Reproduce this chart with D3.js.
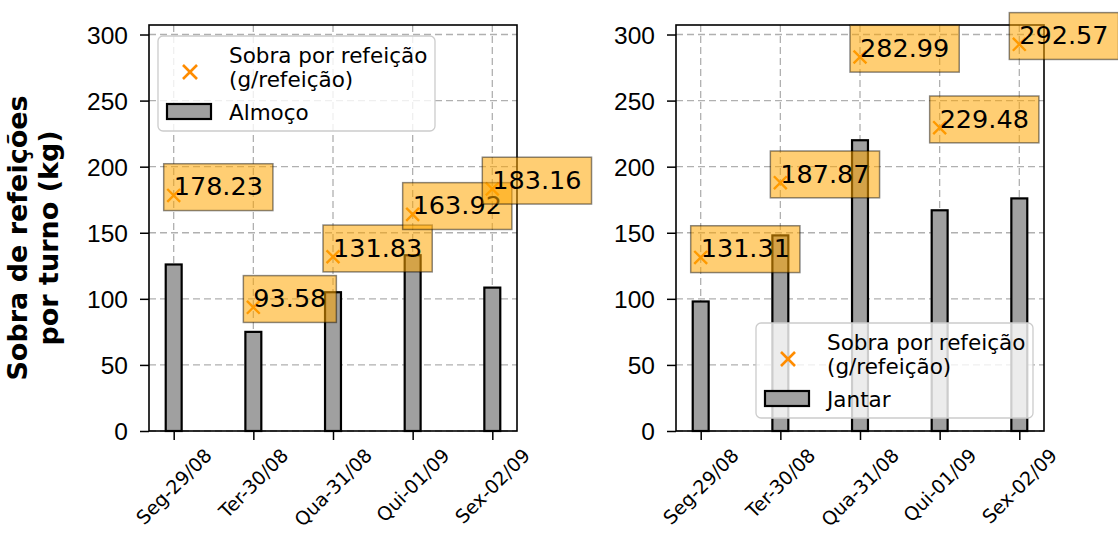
<!DOCTYPE html>
<html>
<head>
<meta charset="utf-8">
<script src="https://cdn.jsdelivr.net/npm/d3@7"></script>
<style>
  html, body { margin: 0; padding: 0; background: #fff; }
  svg { display: block; font-family: "DejaVu Sans", sans-serif; }
</style>
</head>
<body>
<svg id="chart" width="1118" height="536"></svg>
<script>
(function() {
    'use strict';

    // data
    var dias = ['Seg-29/08', 'Ter-30/08', 'Qua-31/08', 'Qui-01/09', 'Sex-02/09'];
    var almoco = [126, 75, 105, 133, 108.5];
    var jantar = [98, 148, 220, 167, 176];
    var sobraAlmoco = [178.23, 93.58, 131.83, 163.92, 183.16];
    var sobraJantar = [131.31, 187.87, 282.99, 229.48, 292.57];
    var yTicks = [0, 50, 100, 150, 200, 250, 300];

    var svg = d3.select('#chart');
    var top = 25, bottom = 431, axW = 368;
    var yMax = d3.max(sobraAlmoco.concat(sobraJantar)) * 1.05;
    var y = d3.scaleLinear().domain([0, yMax]).range([bottom, top]);

    var panels = [
        { x0: 149, bars: almoco, sobra: sobraAlmoco, nome: 'Almoço',
          legend: { x: 158, y: 36 } },
        { x0: 676, bars: jantar, sobra: sobraJantar, nome: 'Jantar',
          legend: { x: 756, y: 323 } }
    ];

    /******************************************************************
        one axes per meal
     ******************************************************************/
    function drawPanel(p) {
        var x = d3.scaleLinear().domain([-0.31, 4.31]).range([p.x0, p.x0 + axW]);
        var bw = x(0.2) - x(0);
        var g = svg.append('g');

        // grid
        g.append('g').selectAll('line').data(yTicks).join('line')
            .attr('x1', p.x0).attr('x2', p.x0 + axW)
            .attr('y1', function(d) { return y(d); })
            .attr('y2', function(d) { return y(d); })
            .style('stroke', '#b0b0b0').style('stroke-width', 1.3)
            .style('stroke-dasharray', '7,4');
        g.append('g').selectAll('line').data(dias).join('line')
            .attr('x1', function(d, i) { return x(i); })
            .attr('x2', function(d, i) { return x(i); })
            .attr('y1', top).attr('y2', bottom)
            .style('stroke', '#b0b0b0').style('stroke-width', 1.3)
            .style('stroke-dasharray', '7,4');

        // bars
        g.append('g').selectAll('rect').data(p.bars).join('rect')
            .attr('x', function(d, i) { return x(i) - bw / 2; })
            .attr('y', function(d) { return y(d); })
            .attr('width', bw)
            .attr('height', function(d) { return bottom - y(d); })
            .style('fill', '#a0a0a0').style('stroke', '#000').style('stroke-width', 2.2);

        // markers
        g.append('g').selectAll('path').data(p.sobra).join('path')
            .attr('d', d3.symbol(d3.symbolTimes, 110))
            .attr('transform', function(d, i) { return 'translate(' + x(i) + ',' + y(d) + ')'; })
            .style('stroke', '#ff8c00').style('stroke-width', 2.4).style('fill', 'none');

        // axes
        var ax = g.append('g').attr('transform', 'translate(0,' + bottom + ')')
            .call(d3.axisBottom(x).tickValues([0, 1, 2, 3, 4]).tickFormat('').tickSize(9).tickSizeOuter(0));
        var ay = g.append('g').attr('transform', 'translate(' + p.x0 + ',0)')
            .call(d3.axisLeft(y).tickValues(yTicks).tickSize(9).tickSizeOuter(0).tickPadding(12));
        [ax, ay].forEach(function(a) {
            a.select('.domain').remove();
            a.selectAll('line').style('stroke', '#000').style('stroke-width', 1.5);
        });
        ay.selectAll('text').style('font-size', '24.5px').style('fill', '#000')
            .attr('dy', '0.36em');

        // x tick labels, rotated 45 and centred under each tick (kept inside the page)
        var xf = 19;
        dias.forEach(function(d, i) {
            var t = g.append('text').text(d)
                .style('font-size', xf + 'px')
                .attr('text-anchor', 'middle')
                .attr('dominant-baseline', 'central');
            var w = t.node().getComputedTextLength();
            var side = (w + xf * 1.16) / Math.SQRT2;
            var cx = x(i), cy = 444 + side / 2;
            t.attr('x', cx).attr('y', cy)
                .attr('transform', 'rotate(-45,' + cx + ',' + cy + ')');
        });

        // spines
        g.append('rect')
            .attr('x', p.x0).attr('y', top).attr('width', axW).attr('height', bottom - top)
            .style('fill', 'none').style('stroke', '#000').style('stroke-width', 1.6);

        // value labels
        var fs = 25.5;
        p.sobra.forEach(function(d, i) {
            var bx = g.append('rect');
            var t = g.append('text').text(d.toFixed(2))
                .attr('x', x(i)).attr('y', y(d))
                .style('font-size', fs + 'px').style('fill', '#000');
            var w = t.node().getComputedTextLength();
            bx.attr('x', x(i) - 10).attr('y', y(d) - 0.93 * fs - 8)
                .attr('width', w + 20).attr('height', 1.17 * fs + 17)
                .style('fill', '#ffa500').style('fill-opacity', 0.55)
                .style('stroke', '#000').style('stroke-opacity', 0.45).style('stroke-width', 1.5);
        });

        // legend
        var lf = '21.5px';
        var L = g.append('g').attr('transform', 'translate(' + p.legend.x + ',' + p.legend.y + ')');
        L.append('rect').attr('width', 277).attr('height', 95).attr('rx', 5)
            .style('fill', '#fff').style('fill-opacity', 0.8)
            .style('stroke', '#cccccc').style('stroke-width', 1.3);
        L.append('path').attr('d', d3.symbol(d3.symbolTimes, 130))
            .attr('transform', 'translate(32,36)')
            .style('stroke', '#ff8c00').style('stroke-width', 2.6).style('fill', 'none');
        L.append('text').attr('x', 71).attr('y', 27).text('Sobra por refeição').style('font-size', lf);
        L.append('text').attr('x', 71).attr('y', 51).text('(g/refeição)').style('font-size', lf);
        L.append('rect').attr('x', 9).attr('y', 68).attr('width', 44).attr('height', 15)
            .style('fill', '#a0a0a0').style('stroke', '#000').style('stroke-width', 2.2);
        L.append('text').attr('x', 71).attr('y', 84).text(p.nome).style('font-size', lf);
    }

    panels.forEach(drawPanel);

    // y axis title
    var yl = svg.append('text')
        .attr('transform', 'translate(27,238) rotate(-90)')
        .attr('text-anchor', 'middle')
        .style('font-size', '27px').style('font-weight', 'bold');
    yl.append('tspan').attr('x', 0).attr('dy', 0).text('Sobra de refeições');
    yl.append('tspan').attr('x', 0).attr('dy', 31).text('por turno (kg)');
})();
</script>
</body>
</html>
